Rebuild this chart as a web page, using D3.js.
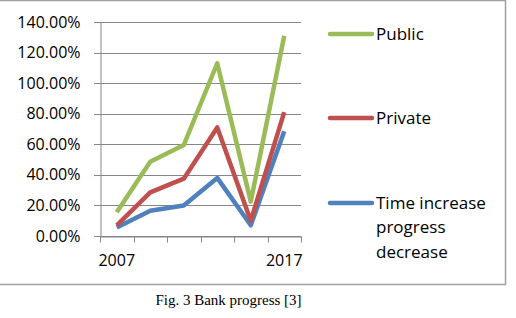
<!DOCTYPE html>
<html>
<head>
<meta charset="utf-8">
<script src="https://cdn.jsdelivr.net/npm/d3@7"></script>
<style>
  body { margin: 0; background: #fff; }
  svg { display: block; }
</style>
</head>
<body>
<div id="chart"></div>
<script>
// data
const years = ['2007', '2009', '2011', '2013', '2015', '2017'];
const tickLabels = ['2007', '', '', '', '', '2017'];
const publicVals = [0.155, 0.485, 0.595, 1.13, 0.225, 1.31];
const privateVals = [0.07, 0.285, 0.375, 0.71, 0.10, 0.81];
const timeVals = [0.055, 0.165, 0.20, 0.38, 0.07, 0.685];
const yTicks = [0, 0.2, 0.4, 0.6, 0.8, 1.0, 1.2, 1.4];

const series = [
  {name: ['Public'], values: publicVals, color: '#9bbb59'},
  {name: ['Private'], values: privateVals, color: '#c0504d'},
  {name: ['Time increase', 'progress', 'decrease'], values: timeVals, color: '#4f81bd'}
];

const W = 516, H = 318;
const svg = d3.select('#chart').append('svg').attr('width', W).attr('height', H);

// chart frame
svg.append('rect')
  .attr('x', -2).attr('y', 0.5)
  .attr('width', 507.5).attr('height', 284)
  .attr('fill', '#fff').attr('stroke', '#a0a0a0').attr('stroke-width', 1.5);

const x = d3.scaleBand().domain(years).range([100, 301]);
const y = d3.scaleLinear().domain([0, 1.4]).range([236, 22]);

const grid = svg.append('g');
grid.selectAll('line').data(yTicks).join('line')
  .attr('x1', 94).attr('x2', 301)
  .attr('y1', d => Math.round(y(d)) + 0.5).attr('y2', d => Math.round(y(d)) + 0.5)
  .attr('stroke', '#868686').attr('stroke-width', 1);

// y axis
const yAxis = svg.append('g').attr('transform', 'translate(100.5,0)')
  .call(d3.axisLeft(y).tickValues(yTicks).tickSize(0).tickPadding(20)
    .tickFormat(d3.format('.2%')));
yAxis.select('.domain').attr('stroke', '#868686');
yAxis.selectAll('text')
  .attr('font-family', 'Open Sans, sans-serif').attr('font-size', 16).attr('fill', '#000');

// x axis
const xAxis = svg.append('g').attr('transform', `translate(0,${Math.round(y(0)) + 0.5})`)
  .call(d3.axisBottom(x).tickSize(0).tickPadding(18).tickFormat((d, i) => tickLabels[i]));
xAxis.select('.domain').attr('stroke', '#868686');
xAxis.selectAll('text')
  .attr('font-family', 'Open Sans, sans-serif').attr('font-size', 16).attr('fill', '#000');
const edges = years.map(d => x(d)).concat([x.range()[1]]);
xAxis.selectAll('line.edge').data(edges).join('line')
  .attr('class', 'edge')
  .attr('x1', d => Math.round(d) + 0.5).attr('x2', d => Math.round(d) + 0.5)
  .attr('y1', 0).attr('y2', 6)
  .attr('stroke', '#868686');

// lines
const line = d3.line()
  .x((d, i) => x(years[i]) + x.bandwidth() / 2)
  .y(d => y(d));

svg.append('g').selectAll('path').data(series.slice().reverse()).join('path')
  .attr('d', d => line(d.values))
  .attr('fill', 'none')
  .attr('stroke', d => d.color)
  .attr('stroke-width', 4.5)
  .attr('stroke-linejoin', 'round');

// legend
const legendY = [34, 118, 203];
const leg = svg.append('g').selectAll('g').data(series).join('g')
  .attr('transform', (d, i) => `translate(330,${legendY[i]})`);
leg.append('line')
  .attr('x1', 0).attr('x2', 42)
  .attr('stroke', d => d.color).attr('stroke-width', 4.5).attr('stroke-linecap', 'round');
leg.append('text')
  .attr('font-family', 'Open Sans, sans-serif').attr('font-size', 17).attr('fill', '#000')
  .selectAll('tspan').data(d => d.name).join('tspan')
  .attr('x', 46)
  .attr('y', (d, i) => i * 24.5)
  .attr('dy', '0.35em')
  .text(d => d);

// caption
svg.append('text')
  .attr('x', 228.5).attr('y', 305)
  .attr('text-anchor', 'middle')
  .attr('font-family', 'Liberation Serif, Times New Roman, serif')
  .attr('font-size', 15).attr('fill', '#000')
  .text('Fig. 3 Bank progress [3]');
</script>
</body>
</html>
